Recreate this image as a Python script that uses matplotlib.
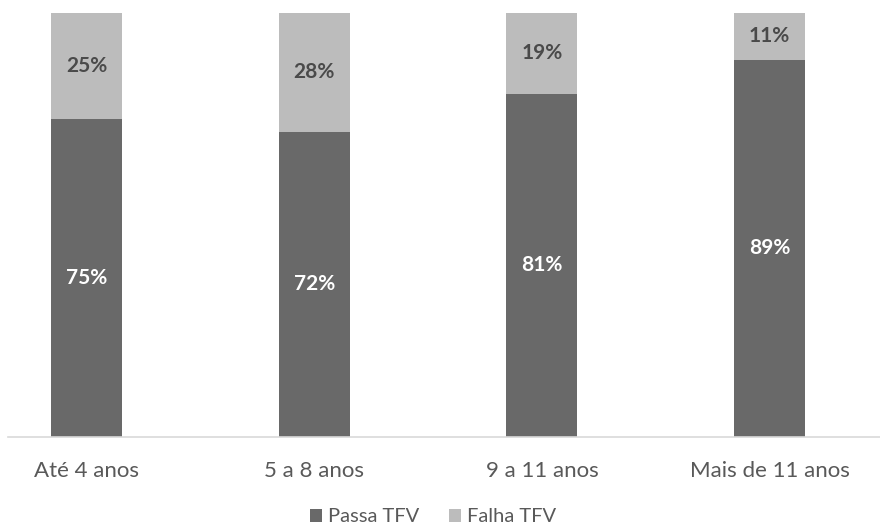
import numpy as np
import matplotlib.pyplot as plt

categories = ["Até 4 anos", "5 a 8 anos", "9 a 11 anos", "Mais de 11 anos"]
passa = np.array([75, 72, 81, 89])
falha = np.array([25, 28, 19, 11])

dark = "#696969"
light = "#bcbcbc"

plt.rcParams['font.family'] = ['Lato', 'DejaVu Sans']

fig = plt.figure(figsize=(8.8, 5.3), dpi=100)
ax = fig.add_axes([8 / 880, 1 - 437 / 530, 872 / 880, 424 / 530])

x = np.arange(len(categories))
w = 0.312
ax.bar(x, passa, w, color=dark, label="Passa TFV")
ax.bar(x, falha, w, bottom=passa, color=light, label="Falha TFV")

for i in range(len(x)):
    ax.text(x[i], passa[i] / 2, f"{passa[i]}%", ha="center", va="center",
            color="white", fontsize=15, fontweight="bold")
    ax.text(x[i], passa[i] + falha[i] / 2, f"{falha[i]}%", ha="center", va="center",
            color="#4a4a4a", fontsize=15, fontweight="bold")

ax.set_xlim(-0.345, 3.485)
ax.set_ylim(0, 100)
ax.set_xticks(x)
ax.set_xticklabels(categories, fontsize=16, color="#595959")
ax.tick_params(axis="x", length=0, pad=17)
ax.set_yticks([])
for s in ["top", "left", "right"]:
    ax.spines[s].set_visible(False)
ax.spines["bottom"].set_color("#d9d9d9")
ax.spines["bottom"].set_linewidth(1.2)

fig.legend(loc="center", bbox_to_anchor=(433 / 880, 1 - 517 / 530), ncol=2,
           frameon=False, fontsize=14.5, handlelength=0.6, handleheight=0.6,
           handletextpad=0.3, columnspacing=1.5, labelcolor="#595959",
           borderpad=0.2)

fig.savefig("out.png", dpi=100)
